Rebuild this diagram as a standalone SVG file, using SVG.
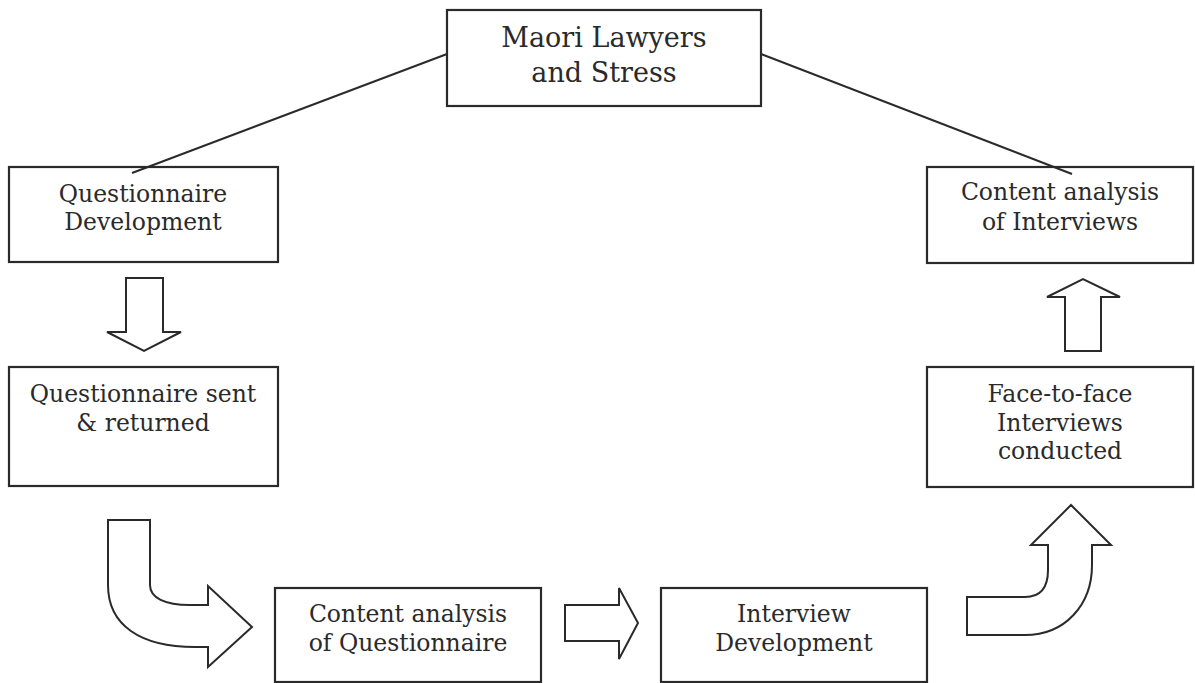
<svg xmlns="http://www.w3.org/2000/svg" width="1195" height="683" viewBox="0 0 1195 683">
<style>
.box{fill:#fff;stroke:#2a2a2a;stroke-width:2.2}
.arr{fill:#fff;stroke:#2a2a2a;stroke-width:2;stroke-linejoin:miter}
.ln{stroke:#2a2a2a;stroke-width:2;fill:none}
text{font-family:"DejaVu Serif","Liberation Serif",serif;fill:#2a2a2a;text-anchor:middle;font-size:23.5px}
.big{font-size:27px}
</style>
<rect width="1195" height="683" fill="#fff"/>
<g id="n-top">
<rect class="box" x="447" y="10" width="314" height="96"/>
<text class="big" x="604" y="47">Maori Lawyers</text>
<text class="big" x="604" y="82">and Stress</text>
</g>
<g id="n-qdev">
<rect class="box" x="9" y="167" width="269" height="95"/>
<text x="143" y="202">Questionnaire</text>
<text x="143" y="230">Development</text>
</g>
<g id="n-qsent">
<rect class="box" x="9" y="367" width="269" height="119"/>
<text x="143" y="402">Questionnaire sent</text>
<text x="143" y="431">&amp; returned</text>
</g>
<g id="n-caq">
<rect class="box" x="275" y="588" width="266" height="94"/>
<text x="408" y="622">Content analysis</text>
<text x="408" y="651">of Questionnaire</text>
</g>
<g id="n-idev">
<rect class="box" x="661" y="588" width="266" height="94"/>
<text x="794" y="622">Interview</text>
<text x="794" y="651">Development</text>
</g>
<g id="n-f2f">
<rect class="box" x="927" y="367" width="266" height="120"/>
<text x="1060" y="402">Face-to-face</text>
<text x="1060" y="431">Interviews</text>
<text x="1060" y="459">conducted</text>
</g>
<g id="n-cai">
<rect class="box" x="927" y="167" width="266" height="96"/>
<text x="1060" y="200">Content analysis</text>
<text x="1060" y="230">of Interviews</text>
</g>
<g id="connectors">
<line class="ln" x1="447" y1="54" x2="132" y2="173"/>
<line class="ln" x1="761" y1="54" x2="1072" y2="174"/>
<path class="arr" d="M126,278 L163,278 L163,332 L181,332 L144,351 L107,332 L126,332 Z"/>
<path class="arr" d="M108,520 L150,520 L150,585 C150,598 165,605 190,605 L208,605 L208,586 L252,627 L208,667 L208,647 L195,647 C140,647 108,625 108,585 Z"/>
<path class="arr" d="M565,605 L619,605 L619,588 L638,623 L619,659 L619,641 L565,641 Z"/>
<path class="arr" d="M967,597 L1025,597 C1040,597 1048,588 1048,570 L1048,545 L1031,545 L1071,505 L1111,545 L1092,545 L1092,565 C1092,605 1065,635 1025,635 L967,635 Z"/>
<path class="arr" d="M1065,351 L1101,351 L1101,297 L1120,297 L1083,279 L1047,297 L1065,297 Z"/>
</g>
</svg>
